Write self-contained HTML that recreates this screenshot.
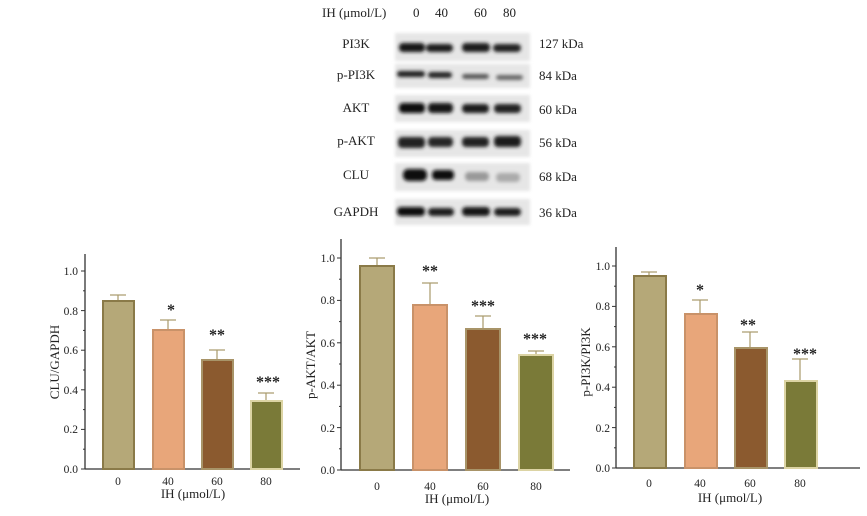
<!DOCTYPE html>
<html><head><meta charset="utf-8"><style>
html,body{margin:0;padding:0;background:#fff;}
svg{display:block;font-family:"Liberation Serif",serif;}
</style></head><body>
<svg width="867" height="516" viewBox="0 0 867 516" xmlns="http://www.w3.org/2000/svg">
<defs>
<filter id="b" x="-20%" y="-100%" width="140%" height="300%"><feGaussianBlur stdDeviation="1.8"/></filter>
<filter id="b2" x="-5%" y="-30%" width="110%" height="160%"><feGaussianBlur stdDeviation="1.5"/></filter>
</defs>
<!-- Western blot -->
<g font-size="13" fill="#222">
<text x="322" y="17">IH (μmol/L)</text>
<text x="413" y="17">0</text><text x="435" y="17">40</text><text x="474" y="17">60</text><text x="503" y="17">80</text>
<g text-anchor="middle">
<text x="356" y="48">PI3K</text>
<text x="356" y="79">p-PI3K</text>
<text x="356" y="112">AKT</text>
<text x="356" y="145">p-AKT</text>
<text x="356" y="179">CLU</text>
<text x="356" y="216">GAPDH</text>
</g>
<text x="539" y="48">127 kDa</text>
<text x="539" y="80">84 kDa</text>
<text x="539" y="114">60 kDa</text>
<text x="539" y="147">56 kDa</text>
<text x="539" y="181">68 kDa</text>
<text x="539" y="217">36 kDa</text>
</g>
<g filter="url(#b2)" fill="#e6e6e6">
<rect x="395" y="33" width="135" height="28"/>
<rect x="395" y="64" width="135" height="24"/>
<rect x="395" y="95" width="135" height="27"/>
<rect x="395" y="130" width="135" height="27"/>
<rect x="395" y="163" width="135" height="28"/>
<rect x="395" y="199" width="135" height="26"/>
</g>
<g filter="url(#b)">
<rect x="399" y="43" width="26" height="9" rx="4" fill="#151515"/><rect x="426" y="44" width="27" height="8" rx="4" fill="#1e1e1e"/><rect x="462" y="43" width="28" height="9" rx="4" fill="#1a1a1a"/><rect x="493" y="44" width="28" height="8" rx="4" fill="#222"/>
<rect x="397" y="71" width="28" height="6" rx="3" fill="#1a1a1a"/><rect x="428" y="72" width="24" height="6" rx="3" fill="#222"/><rect x="462" y="74" width="27" height="5" rx="3" fill="#555"/><rect x="496" y="75" width="27" height="5" rx="3" fill="#666"/>
<rect x="399" y="103" width="26" height="10" rx="4" fill="#111"/><rect x="428" y="103" width="25" height="10" rx="4" fill="#151515"/><rect x="462" y="104" width="27" height="9" rx="4" fill="#1e1e1e"/><rect x="494" y="104" width="27" height="9" rx="4" fill="#222"/>
<rect x="398" y="137" width="27" height="11" rx="4" fill="#222"/><rect x="428" y="137" width="25" height="10" rx="4" fill="#262626"/><rect x="462" y="137" width="27" height="10" rx="4" fill="#222"/><rect x="494" y="136" width="27" height="11" rx="4" fill="#1e1e1e"/>
<rect x="403" y="169" width="24" height="12" rx="5" fill="#080808"/><rect x="432" y="170" width="22" height="10" rx="4" fill="#111"/><rect x="465" y="172" width="24" height="9" rx="4" fill="#999"/><rect x="496" y="173" width="24" height="9" rx="4" fill="#aaa"/>
<rect x="397" y="207" width="28" height="9" rx="4" fill="#111"/><rect x="428" y="208" width="26" height="8" rx="4" fill="#1a1a1a"/><rect x="462" y="207" width="28" height="9" rx="4" fill="#151515"/><rect x="494" y="208" width="27" height="8" rx="4" fill="#1e1e1e"/>
</g>

<!-- Chart 1 -->
<g font-size="11.5" fill="#222">
<line x1="85" y1="254" x2="85" y2="469" stroke="#333" stroke-width="1.3"/>
<line x1="85" y1="469" x2="300" y2="469" stroke="#333" stroke-width="1.3"/>
<g stroke="#333"><line x1="81" y1="469" x2="85" y2="469"/><line x1="81" y1="429.4" x2="85" y2="429.4"/><line x1="81" y1="389.8" x2="85" y2="389.8"/><line x1="81" y1="350.2" x2="85" y2="350.2"/><line x1="81" y1="310.6" x2="85" y2="310.6"/><line x1="81" y1="271" x2="85" y2="271"/>
<line x1="83" y1="449.2" x2="85" y2="449.2"/><line x1="83" y1="409.6" x2="85" y2="409.6"/><line x1="83" y1="370" x2="85" y2="370"/><line x1="83" y1="330.4" x2="85" y2="330.4"/><line x1="83" y1="290.8" x2="85" y2="290.8"/></g>
<g text-anchor="end"><text x="78" y="473">0.0</text><text x="78" y="433">0.2</text><text x="78" y="394">0.4</text><text x="78" y="354">0.6</text><text x="78" y="315">0.8</text><text x="78" y="275">1.0</text></g>
<text transform="translate(59,362) rotate(-90)" text-anchor="middle" font-size="13">CLU/GAPDH</text>
<g stroke="#a89a6a" stroke-width="1.2"><line x1="118" y1="301" x2="118" y2="295"/><line x1="110" y1="295" x2="126" y2="295"/>
<line x1="168" y1="330" x2="168" y2="320"/><line x1="160" y1="320" x2="176" y2="320"/>
<line x1="217" y1="360" x2="217" y2="350"/><line x1="209" y1="350" x2="225" y2="350"/>
<line x1="266" y1="400" x2="266" y2="393"/><line x1="258" y1="393" x2="274" y2="393"/></g>
<rect x="103" y="301" width="31" height="168" fill="#b5a878" stroke="#8a7a48" stroke-width="2"/>
<rect x="153" y="330" width="31" height="139" fill="#e8a67a" stroke="#c99269" stroke-width="2"/>
<rect x="202" y="360" width="31" height="109" fill="#8b5a2f" stroke="#a89468" stroke-width="2"/>
<rect x="251" y="401" width="31" height="68" fill="#7a7a38" stroke="#dcd4a4" stroke-width="2"/>
<g text-anchor="middle" font-size="16" font-weight="bold"><text x="171" y="315">*</text><text x="217" y="340">**</text><text x="268" y="387">***</text></g>
<g text-anchor="middle"><text x="118" y="485">0</text><text x="168" y="485">40</text><text x="217" y="485">60</text><text x="266" y="485">80</text></g>
<text x="193" y="498" text-anchor="middle" font-size="13">IH (μmol/L)</text>
</g>

<!-- Chart 2 -->
<g font-size="11.5" fill="#222">
<line x1="341" y1="239" x2="341" y2="470" stroke="#333" stroke-width="1.3"/>
<line x1="341" y1="470" x2="570" y2="470" stroke="#333" stroke-width="1.3"/>
<g stroke="#333"><line x1="337" y1="470" x2="341" y2="470"/><line x1="337" y1="427.6" x2="341" y2="427.6"/><line x1="337" y1="385.2" x2="341" y2="385.2"/><line x1="337" y1="342.8" x2="341" y2="342.8"/><line x1="337" y1="300.4" x2="341" y2="300.4"/><line x1="337" y1="258" x2="341" y2="258"/>
<line x1="339" y1="448.8" x2="341" y2="448.8"/><line x1="339" y1="406.4" x2="341" y2="406.4"/><line x1="339" y1="364" x2="341" y2="364"/><line x1="339" y1="321.6" x2="341" y2="321.6"/><line x1="339" y1="279.2" x2="341" y2="279.2"/></g>
<g text-anchor="end"><text x="335" y="474">0.0</text><text x="335" y="432">0.2</text><text x="335" y="389">0.4</text><text x="335" y="347">0.6</text><text x="335" y="304">0.8</text><text x="335" y="262">1.0</text></g>
<text transform="translate(315,365) rotate(-90)" text-anchor="middle" font-size="13">p-AKT/AKT</text>
<g stroke="#a89a6a" stroke-width="1.2"><line x1="377" y1="266" x2="377" y2="258"/><line x1="369" y1="258" x2="385" y2="258"/>
<line x1="430" y1="306" x2="430" y2="283"/><line x1="422" y1="283" x2="438" y2="283"/>
<line x1="483" y1="330" x2="483" y2="316"/><line x1="475" y1="316" x2="491" y2="316"/>
<line x1="536" y1="356" x2="536" y2="351"/><line x1="528" y1="351" x2="544" y2="351"/></g>
<rect x="360" y="266" width="34" height="204" fill="#b5a878" stroke="#8a7a48" stroke-width="2"/>
<rect x="413" y="305" width="34" height="165" fill="#e8a67a" stroke="#c99269" stroke-width="2"/>
<rect x="466" y="329" width="34" height="141" fill="#8b5a2f" stroke="#a89468" stroke-width="2"/>
<rect x="519" y="355" width="34" height="115" fill="#7a7a38" stroke="#dcd4a4" stroke-width="2"/>
<g text-anchor="middle" font-size="16" font-weight="bold"><text x="430" y="276">**</text><text x="483" y="311">***</text><text x="535" y="344">***</text></g>
<g text-anchor="middle"><text x="377" y="490">0</text><text x="430" y="490">40</text><text x="483" y="490">60</text><text x="536" y="490">80</text></g>
<text x="457" y="503" text-anchor="middle" font-size="13">IH (μmol/L)</text>
</g>

<!-- Chart 3 -->
<g font-size="11.5" fill="#222">
<line x1="616" y1="247" x2="616" y2="468" stroke="#333" stroke-width="1.3"/>
<line x1="616" y1="468" x2="860" y2="468" stroke="#333" stroke-width="1.3"/>
<g stroke="#333"><line x1="612" y1="468" x2="616" y2="468"/><line x1="612" y1="427.6" x2="616" y2="427.6"/><line x1="612" y1="387.2" x2="616" y2="387.2"/><line x1="612" y1="346.8" x2="616" y2="346.8"/><line x1="612" y1="306.4" x2="616" y2="306.4"/><line x1="612" y1="266" x2="616" y2="266"/>
<line x1="614" y1="447.8" x2="616" y2="447.8"/><line x1="614" y1="407.4" x2="616" y2="407.4"/><line x1="614" y1="367" x2="616" y2="367"/><line x1="614" y1="326.6" x2="616" y2="326.6"/><line x1="614" y1="286.2" x2="616" y2="286.2"/></g>
<g text-anchor="end"><text x="610" y="472">0.0</text><text x="610" y="432">0.2</text><text x="610" y="391">0.4</text><text x="610" y="351">0.6</text><text x="610" y="310">0.8</text><text x="610" y="270">1.0</text></g>
<text transform="translate(590,362) rotate(-90)" text-anchor="middle" font-size="13">p-PI3K/PI3K</text>
<g stroke="#a89a6a" stroke-width="1.2"><line x1="649" y1="276" x2="649" y2="272"/><line x1="641" y1="272" x2="657" y2="272"/>
<line x1="700" y1="315" x2="700" y2="300"/><line x1="692" y1="300" x2="708" y2="300"/>
<line x1="750" y1="348" x2="750" y2="332"/><line x1="742" y1="332" x2="758" y2="332"/>
<line x1="800" y1="382" x2="800" y2="359"/><line x1="792" y1="359" x2="808" y2="359"/></g>
<rect x="634" y="276" width="32" height="192" fill="#b5a878" stroke="#8a7a48" stroke-width="2"/>
<rect x="685" y="314" width="32" height="154" fill="#e8a67a" stroke="#c99269" stroke-width="2"/>
<rect x="735" y="348" width="32" height="120" fill="#8b5a2f" stroke="#a89468" stroke-width="2"/>
<rect x="785" y="381" width="32" height="87" fill="#7a7a38" stroke="#dcd4a4" stroke-width="2"/>
<g text-anchor="middle" font-size="16" font-weight="bold"><text x="700" y="295">*</text><text x="748" y="330">**</text><text x="805" y="359">***</text></g>
<g text-anchor="middle"><text x="649" y="487">0</text><text x="700" y="487">40</text><text x="750" y="487">60</text><text x="800" y="487">80</text></g>
<text x="730" y="502" text-anchor="middle" font-size="13">IH (μmol/L)</text>
</g>
</svg>
</body></html>
